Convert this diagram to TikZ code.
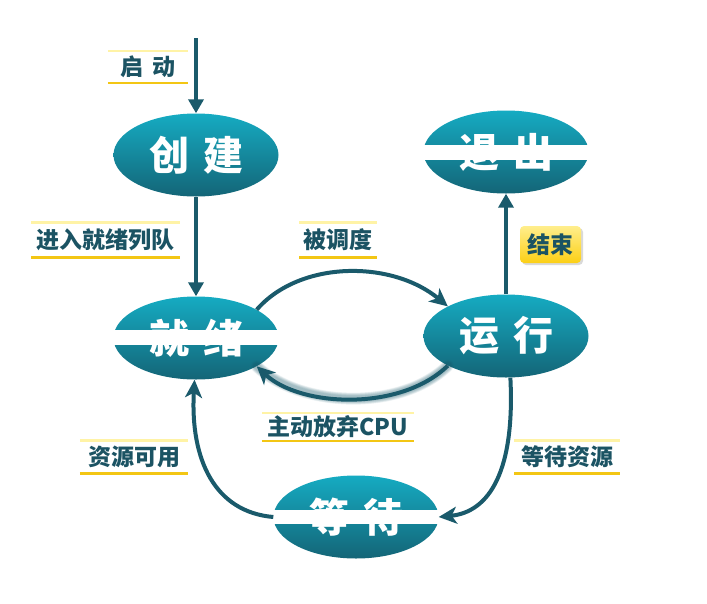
\documentclass[tikz,border=0pt]{standalone}
\usepackage{fontspec}
\setmainfont{Noto Sans CJK SC}
\usetikzlibrary{shapes.geometric,arrows.meta}
\definecolor{teal1}{HTML}{15ABC2}
\definecolor{teal2}{HTML}{146577}
\definecolor{arrowc}{HTML}{1A5A6B}
\definecolor{lbltxt}{HTML}{1B5363}
\definecolor{ytop}{HTML}{FFF3A6}
\definecolor{ybot}{HTML}{F3C614}
\definecolor{yl1}{HTML}{FFEE8C}
\definecolor{yl2}{HTML}{FCCF15}
\begin{document}
\begin{tikzpicture}[x=1pt,y=-1pt,
  state/.style={ellipse, minimum width=165pt, minimum height=83pt, inner sep=0pt,
    top color=teal1, bottom color=teal2, text=white,
    font=\fontsize{40}{44}\selectfont\bfseries},
  lbl/.style={text=lbltxt, font=\fontsize{23}{25}\selectfont\bfseries, inner sep=0pt},
  conn/.style={draw=arrowc, line width=4pt, -{Triangle[length=14pt,width=15pt]}},
  curv/.style={draw=arrowc, line width=4pt, -{Stealth[length=18pt,width=17pt,inset=5pt]}},
  toplinestyle/.style={draw=ytop, line width=2.5pt},
  botlinestyle/.style={draw=ybot, line width=2.5pt},
]
\useasboundingbox (0,0) rectangle (707,603);

% states
\node[state] (cj) at (196,155) {创\hspace{14pt}建};
\node[state] (tc) at (506,152) {退\hspace{14pt}出};
\node[state] (jx) at (196,338) {就\hspace{14pt}绪};
\node[state] (yx) at (506,336) {运\hspace{14pt}行};
\node[state] (dd) at (356,517) {等\hspace{14pt}待};

% white bands
\fill[white] ([yshift=-8pt]tc.west) rectangle ([yshift=7pt]tc.east);
\fill[white] ([yshift=-7pt]jx.west) rectangle ([yshift=8pt]jx.east);
\fill[white] ([yshift=-7pt]dd.west) rectangle ([yshift=7pt]dd.east);

% labels
\node[lbl, minimum width=80pt, minimum height=32pt] (l1) at (148,67) {启\hspace{10pt}动};
\node[lbl, minimum width=149pt, minimum height=35pt] (l2) at (105.5,240) {进入就绪列队};
\node[lbl, minimum width=77pt, minimum height=35pt] (l3) at (338,240) {被调度};
\node[lbl, minimum width=152pt, minimum height=28pt] (l4) at (338,427) {主动放弃CPU};
\node[lbl, minimum width=108pt, minimum height=33pt] (l5) at (134,457) {资源可用};
\node[lbl, minimum width=105pt, minimum height=33pt] (l6) at (567,457) {等待资源};
\foreach \n in {l1,l2,l3,l4,l5,l6}{
  \draw[toplinestyle] (\n.north west) -- (\n.north east);
  \draw[botlinestyle] (\n.south west) -- (\n.south east);
}

% yellow box label
\fill[black!15, rounded corners=4pt] (522,228) rectangle (583,265);
\node[lbl, rounded corners=4pt, top color=yl1, bottom color=yl2,
  minimum width=61pt, minimum height=37pt] (l7) at (550.5,244.5) {结束};

% straight connectors
\coordinate (start) at (196,38);
\draw[conn] (start) -- (cj.north);
\draw[conn] (cj.south) -- (jx.north);
\draw[conn] (yx.north) -- (tc.south);

% curved connectors
\draw[curv] (jx.25) .. controls (300,260) and (392,260) .. (yx.153);
\foreach \w in {12,11,10,9,8,7,6}{
  \draw[draw=arrowc, line width=\w pt, opacity=0.07, line cap=round]
    (yx.207) .. controls (400,412) and (300,407) .. (jx.-25);
}
\draw[curv] (yx.207) .. controls (400,412) and (300,407) .. (jx.-25);
\draw[curv] (yx.-84) .. controls (515,470) and (490,512) .. (dd.east);
\draw[curv] (dd.west) .. controls (215,512) and (190,460) .. (jx.-92);
\end{tikzpicture}
\end{document}
